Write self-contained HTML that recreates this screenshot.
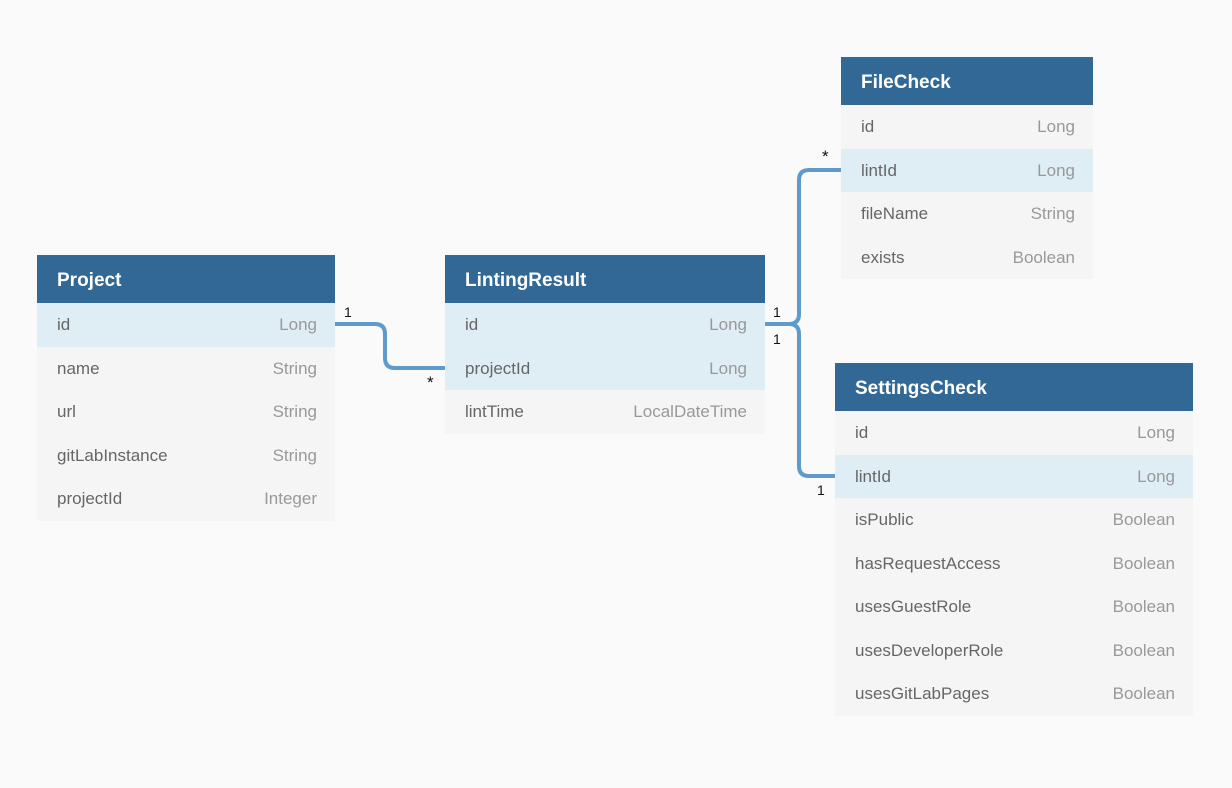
<!DOCTYPE html>
<html><head><style>
body{margin:0;width:1232px;height:788px;background:#fafafa;position:relative;overflow:hidden;font-family:"Liberation Sans",sans-serif}
.t{position:absolute;background:#f5f5f5}
.h{height:48px;background:#316895;color:#fff;font-weight:bold;font-size:19px;line-height:52px;padding-left:20px}
.r{height:43.5px;line-height:43.5px;font-size:17px;color:#666;padding:0 18px 0 20px;position:relative}
.r span{position:absolute;right:18px;color:#999}
.r.s{background:#dfedf5}
.lbl{position:absolute;font-size:14px;color:#111}
.st{font-size:17px}
</style></head><body>
<svg width="1232" height="788" style="position:absolute;left:0;top:0">
<g fill="none" stroke="#5e9bcc" stroke-width="4">
<path d="M335 324 H375 Q385 324 385 334 V358 Q385 368 395 368 H445"/>
<path d="M765 324 H789 Q799 324 799 314 V180 Q799 170 809 170 H841"/>
<path d="M789 324 Q799 324 799 334 V466 Q799 476 809 476 H835"/>
</g></svg>
<div class="t" style="left:37px;top:255px;width:298px">
<div class="h">Project</div>
<div class="r s">id<span>Long</span></div>
<div class="r">name<span>String</span></div>
<div class="r">url<span>String</span></div>
<div class="r">gitLabInstance<span>String</span></div>
<div class="r">projectId<span>Integer</span></div>
</div>
<div class="t" style="left:445px;top:255px;width:320px">
<div class="h">LintingResult</div>
<div class="r s">id<span>Long</span></div>
<div class="r s">projectId<span>Long</span></div>
<div class="r">lintTime<span>LocalDateTime</span></div>
</div>
<div class="t" style="left:841px;top:57px;width:252px">
<div class="h">FileCheck</div>
<div class="r">id<span>Long</span></div>
<div class="r s">lintId<span>Long</span></div>
<div class="r">fileName<span>String</span></div>
<div class="r">exists<span>Boolean</span></div>
</div>
<div class="t" style="left:835px;top:363px;width:358px">
<div class="h">SettingsCheck</div>
<div class="r">id<span>Long</span></div>
<div class="r s">lintId<span>Long</span></div>
<div class="r">isPublic<span>Boolean</span></div>
<div class="r">hasRequestAccess<span>Boolean</span></div>
<div class="r">usesGuestRole<span>Boolean</span></div>
<div class="r">usesDeveloperRole<span>Boolean</span></div>
<div class="r">usesGitLabPages<span>Boolean</span></div>
</div>
<div class="lbl" style="left:344px;top:304px">1</div>
<div class="lbl st" style="left:427px;top:373px">*</div>
<div class="lbl" style="left:773px;top:304px">1</div>
<div class="lbl" style="left:773px;top:331px">1</div>
<div class="lbl st" style="left:822px;top:147px">*</div>
<div class="lbl" style="left:817px;top:482px">1</div>
</body></html>
